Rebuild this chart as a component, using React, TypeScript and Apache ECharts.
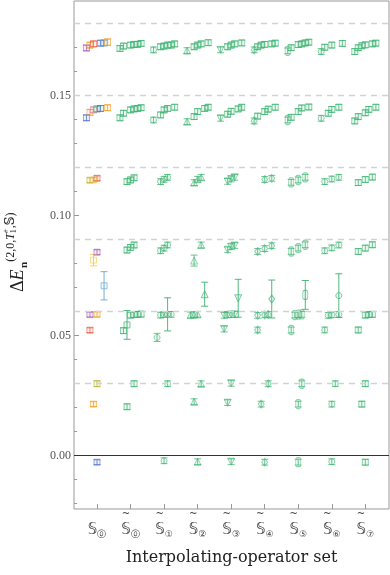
import React, { useEffect, useRef } from "react";
import * as echarts from "echarts";

// ---------- data ----------
// tick positions / labels of the interpolating-operator sets
const CATEGORY_INDEX = [0, 1, 2, 3, 4, 5, 6, 7, 8];
const CATEGORY_CIRCLED = ["⓪", "⓪", "①", "②", "③", "④", "⑤", "⑥", "⑦"];
const CATEGORY_TILDE = [false, true, true, true, true, true, true, true, true];
const CATEGORY_MARKER = ["rect", "rect", "circle", "triangle", "triangleDown", "diamond", "pill", "circle", "rect"];

const Y_TICKS = [0, 0.05, 0.1, 0.15];
const Y_MINOR_TICKS = [-0.02, -0.01, 0.01, 0.02, 0.03, 0.04, 0.06, 0.07, 0.08, 0.09, 0.11, 0.12, 0.13, 0.14, 0.16, 0.17, 0.18];
// non-interacting reference levels (dashed)
const REFERENCE_LEVELS = [0.0317, 0.0628, 0.0938, 0.124, 0.1542, 0.1838];

// points: [fit slot, value, error, colour]
const S0 = [
  [0, 0.1696, 0.0012, "p"], [1, 0.1708, 0.0012, "o"], [2, 0.1713, 0.0012, "r"], [4, 0.1716, 0.0012, "b"], [5, 0.1717, 0.0012, "lb"], [6, 0.172, 0.0014, "o"],
  [0, 0.1405, 0.0012, "b"], [1, 0.1428, 0.0012, "o"], [2, 0.1438, 0.0012, "pk"], [3, 0.1442, 0.0012, "g"], [4, 0.1444, 0.0012, "b"], [6, 0.1447, 0.0012, "o"],
  [1, 0.1145, 0.001, "ol"], [2, 0.1146, 0.001, "y"], [3, 0.1153, 0.001, "r"],
  [3, 0.0845, 0.001, "p"], [2, 0.0812, 0.0024, "y"], [5, 0.0705, 0.0059, "lb"],
  [1, 0.0585, 0.001, "p"], [3, 0.0586, 0.001, "o"],
  [1, 0.052, 0.001, "r"],
  [3, 0.0297, 0.0012, "ol"],
  [2, 0.0212, 0.001, "o"],
  [3, -0.003, 0.001, "b"],
];
const S1 = [
  [0, 0.1694], [1, 0.1704], [3, 0.1708], [4, 0.1711], [5, 0.1711], [6, 0.1715],
  [0, 0.1405], [1, 0.1424], [3, 0.1438], [4, 0.1442], [5, 0.1444], [6, 0.1447],
  [2, 0.1139], [3, 0.1146], [4, 0.1155],
  [2, 0.0854], [3, 0.0865], [4, 0.0875],
  [2, 0.0542, 0.006], [1, 0.0518],
  [3, 0.0583], [4, 0.0585], [5, 0.0586], [6, 0.0587],
  [4, 0.0297], [2, 0.0201],
];
const S2 = [
  [0, 0.1688], [2, 0.1701], [3, 0.1704], [4, 0.1708], [5, 0.1708], [6, 0.1713],
  [0, 0.1396], [2, 0.1417], [3, 0.1438], [4, 0.1444], [6, 0.1449],
  [2, 0.1139], [3, 0.1149], [4, 0.1157],
  [2, 0.0851], [3, 0.0862], [4, 0.0875],
  [2, 0.0583], [3, 0.0585], [4, 0.0586, 0.0069], [5, 0.0586],
  [1, 0.049, 0.0017],
  [4, 0.0297], [3, -0.0024],
];
const S3 = [
  [0, 0.1685], [2, 0.1701], [3, 0.1708], [4, 0.1713], [6, 0.1718],
  [0, 0.1389], [2, 0.141], [3, 0.1431], [5, 0.1444], [6, 0.1449],
  [2, 0.1135], [3, 0.1149], [4, 0.1157],
  [4, 0.0875], [2, 0.081, 0.0023],
  [5, 0.067, 0.005],
  [1, 0.0583], [2, 0.0585], [3, 0.0586],
  [4, 0.0297], [2, 0.0222], [3, -0.0028],
];
const S4 = [
  [0, 0.1688], [2, 0.1701], [3, 0.1708], [4, 0.1713], [6, 0.1717],
  [0, 0.1403], [2, 0.142], [3, 0.1432], [5, 0.1442], [6, 0.1449],
  [2, 0.114], [3, 0.115], [4, 0.1157],
  [2, 0.0855], [3, 0.0868], [4, 0.0873],
  [5, 0.0653, 0.0079],
  [1, 0.0582], [2, 0.0584], [3, 0.0585], [4, 0.0586],
  [1, 0.0525], [3, 0.0299], [2, 0.0218], [3, -0.0028],
];
const S5 = [
  [0, 0.1688], [1, 0.1701], [2, 0.1708], [3, 0.1711], [5, 0.1713], [6, 0.1716],
  [0, 0.1392], [1, 0.1412], [3, 0.1431], [4, 0.1441], [6, 0.1449],
  [3, 0.1148], [5, 0.1153],
  [1, 0.0848], [3, 0.086], [5, 0.0872],
  [5, 0.065, 0.0079],
  [1, 0.0582], [3, 0.0584], [4, 0.0586],
  [1, 0.0521], [4, 0.0297], [2, 0.0212], [3, -0.003],
];
const S6 = [
  [0, 0.1684], [1, 0.1697], [3, 0.171], [4, 0.1713], [5, 0.1717], [6, 0.172],
  [0, 0.1396], [1, 0.1407], [3, 0.1431], [4, 0.1446], [6, 0.145],
  [1, 0.1136], [3, 0.1146], [5, 0.1157],
  [1, 0.0848], [3, 0.0862], [5, 0.0876],
  [5, 0.0667, 0.006],
  [2, 0.0583], [3, 0.0585], [4, 0.0586],
  [1, 0.0521], [4, 0.0297], [3, 0.0212], [3, -0.003],
];
const S7 = [
  [0, 0.1681], [1, 0.1699], [3, 0.1708], [6, 0.1715],
  [0, 0.1403], [2, 0.1424], [3, 0.144], [5, 0.1449],
  [1, 0.1139], [3, 0.115], [5, 0.1157],
  [1, 0.0851], [3, 0.0863], [5, 0.0875],
  [5, 0.0664, 0.0091],
  [2, 0.0582], [3, 0.0584], [5, 0.0586],
  [1, 0.0521], [4, 0.0297], [3, 0.0212], [3, -0.0028],
];
const S8 = [
  [0, 0.1681], [1, 0.1697], [2, 0.1705], [3, 0.1709], [5, 0.1713], [6, 0.1716],
  [0, 0.1392], [1, 0.141], [3, 0.1426], [4, 0.144], [6, 0.1449],
  [1, 0.1135], [3, 0.1148], [5, 0.1158],
  [1, 0.0848], [3, 0.0862], [5, 0.0876],
  [3, 0.0583], [4, 0.0585], [5, 0.0586],
  [1, 0.0521], [3, 0.0297], [2, 0.0212], [3, -0.003],
];
const SETS = [S0, S1, S2, S3, S4, S5, S6, S7, S8];

// ---------- styling ----------
const COLORS: Record<string, string> = {
  g: "#3cb371", b: "#4f6fd0", lb: "#6aa6d8", o: "#f39c1f", r: "#e8553f",
  p: "#9b59b6", y: "#f5c242", ol: "#b4b22c", pk: "#e07bb5",
};
const COLOR_KEYS = Object.keys(COLORS);
const FONT = '"Liberation Serif", "DejaVu Serif", serif';
const TITLE_FONT = '"DejaVu Serif", serif';
const SANS = '"DejaVu Sans", sans-serif';
const DEFAULT_ERR = 0.0012;
const SLOT_STEP = 0.105;

const XMIN = -0.686;
const XMAX = 8.706;
const YMIN = -0.0225;
const YMAX = 0.18917;

function hexA(hex: string, a: number) {
  const n = parseInt(hex.slice(1), 16);
  return `rgba(${(n >> 16) & 255},${(n >> 8) & 255},${n & 255},${a})`;
}

export default function App() {
  const ref = useRef<HTMLDivElement>(null);
  useEffect(() => {
    if (!ref.current) return;
    const chart = echarts.init(ref.current, undefined, { renderer: "svg" });

    const errData: any[] = [];
    const pts: any[] = [];
    SETS.forEach((set, ci) => {
      set.forEach((row: any[]) => {
        const slot = row[0] as number;
        const v = row[1] as number;
        const e = (row[2] as number) || DEFAULT_ERR;
        const ck = (row[3] as string) || "g";
        const x = ci + (slot - 3) * SLOT_STEP;
        const big = e > 0.004;
        errData.push([x, v, e, COLOR_KEYS.indexOf(ck), big ? 1 : 0]);
        let m = CATEGORY_MARKER[ci];
        if (v > 0.13 && slot > 0) m = "rect";
        const col = COLORS[ck];
        let symbol = m, size: any = 6, rot = 0;
        if (m === "triangle") { symbol = "triangle"; size = 7; }
        if (m === "triangleDown") { symbol = "triangle"; size = 7; rot = 180; }
        if (m === "diamond") { symbol = "diamond"; size = [6, 8]; }
        if (m === "pill") { symbol = "roundRect"; size = [5, 9]; }
        if (m === "circle") { size = 6; }
        pts.push({
          value: [x, v], symbol, symbolSize: size, symbolRotate: rot,
          itemStyle: { color: hexA(col, 0.12), borderColor: hexA(col, big ? 0.85 : 0.7), borderWidth: 1 },
        });
      });
    });

    const ctx = document.createElement("canvas").getContext("2d")!;
    const tw = (t: string, size: number, style = "normal", weight = "normal") => {
      ctx.font = `${style} ${weight} ${size}px ${FONT}`;
      return ctx.measureText(t).width;
    };
    const txt = (t: string, x: number, y: number, size: number, style = "normal", weight = "normal") => ({
      type: "text", x, y,
      style: { text: t, fontSize: size, fontFamily: FONT, fontStyle: style, fontWeight: weight, fill: "#222", verticalAlign: "middle", align: "left" },
    });
    const big = 18, sup = 12, tiny = 8;
    const kids: any[] = [];
    let lx = 0;
    kids.push(txt("Δ", lx, -6, big)); lx += tw("Δ", big);
    kids.push(txt("E", lx, -6, big, "italic")); lx += tw("E", big, "italic") + 1.5;
    kids.push(txt("n", lx, -0.5, 11, "normal", "bold")); lx += tw("n", 11, "normal", "bold");
    kids.push(txt("(2,0,", lx, -13.5, sup)); lx += tw("(2,0,", sup);
    kids.push(txt("T", lx, -13.5, sup, "italic")); lx += tw("T", sup, "italic");
    kids.push(txt("1", lx, -10, tiny)); kids.push(txt("+", lx, -17.5, tiny)); lx += tw("+", tiny) + 0.5;
    kids.push(txt(",𝕊)", lx, -13.5, sup));

    const option: any = {
      animation: false,
      grid: { left: 74, top: 1, width: 315, height: 508, show: true, borderColor: "#999", borderWidth: 1, backgroundColor: "transparent", containLabel: false },
      xAxis: {
        type: "value", min: XMIN, max: XMAX,
        axisLine: { show: false, onZero: false }, splitLine: { show: false },
        axisTick: { show: true, inside: true, length: 5, customValues: CATEGORY_INDEX, lineStyle: { color: "#999" } },
        axisLabel: {
          customValues: CATEGORY_INDEX, margin: -2,
          formatter: (v: number) => {
            const i = Math.round(v);
            return (CATEGORY_TILDE[i] ? "{t|~}" : "{t| }") + "\n{s|𝕊}{c|" + CATEGORY_CIRCLED[i] + "}";
          },
          rich: {
            t: { fontFamily: SANS, fontSize: 10, lineHeight: 12, padding: [0, 9, 0, 0], color: "#444" },
            s: { fontFamily: SANS, fontSize: 15, lineHeight: 19, color: "#444" },
            c: { fontFamily: SANS, fontSize: 9, lineHeight: 19, verticalAlign: "bottom", color: "#444" },
          },
        },
        name: "Interpolating-operator set", nameLocation: "middle", nameGap: 39,
        nameTextStyle: { fontFamily: TITLE_FONT, fontSize: 16, color: "#222" },
      },
      yAxis: [
        {
          type: "value", min: YMIN, max: YMAX,
          axisLine: { show: false, onZero: false }, splitLine: { show: false },
          axisTick: { show: true, inside: true, length: 5, customValues: Y_TICKS, lineStyle: { color: "#999" } },
          axisLabel: { customValues: Y_TICKS, formatter: (v: number) => v.toFixed(2), margin: 3, fontFamily: FONT, fontSize: 12, color: "#555" },
        },
        {
          type: "value", min: YMIN, max: YMAX, position: "left",
          axisLine: { show: false, onZero: false }, splitLine: { show: false },
          axisTick: { show: true, inside: true, length: 3, customValues: Y_MINOR_TICKS, lineStyle: { color: "#999" } },
          axisLabel: { show: false },
        },
      ],
      graphic: [{ type: "group", x: 23, y: 292, rotation: Math.PI / 2, children: kids }],
      series: [
        {
          type: "scatter", xAxisIndex: 0, yAxisIndex: 0, data: pts, z: 4, silent: true,
          markLine: {
            silent: true, symbol: ["none", "none"], label: { show: false },
            data: [
              ...REFERENCE_LEVELS.map((v) => ({ yAxis: v, lineStyle: { color: "#d2d2d2", type: [6, 5], width: 1.3 } })),
              { yAxis: 0, lineStyle: { color: "#333", type: "solid", width: 1.2 } },
            ],
          },
        },
        {
          type: "custom", xAxisIndex: 0, yAxisIndex: 0, z: 3, silent: true,
          data: errData,
          encode: { x: 0, y: 1 },
          renderItem: (_p: any, api: any) => {
            const x = api.value(0), y = api.value(1), e = api.value(2);
            const col = COLORS[COLOR_KEYS[api.value(3)]];
            const isBig = api.value(4) === 1;
            const t = api.coord([x, y + e]);
            const b = api.coord([x, y - e]);
            const w = 3.5;
            const style = { stroke: hexA(col, isBig ? 0.9 : 0.75), lineWidth: 1 };
            return {
              type: "group",
              children: [
                { type: "line", shape: { x1: t[0], y1: t[1], x2: b[0], y2: b[1] }, style },
                { type: "line", shape: { x1: t[0] - w, y1: t[1], x2: t[0] + w, y2: t[1] }, style },
                { type: "line", shape: { x1: b[0] - w, y1: b[1], x2: b[0] + w, y2: b[1] }, style },
              ],
            };
          },
        },
      ],
    };
    chart.setOption(option);
    return () => chart.dispose();
  }, []);
  return <div ref={ref} style={{ position: "fixed", left: 0, top: 0, width: 390, height: 575 }} />;
}
